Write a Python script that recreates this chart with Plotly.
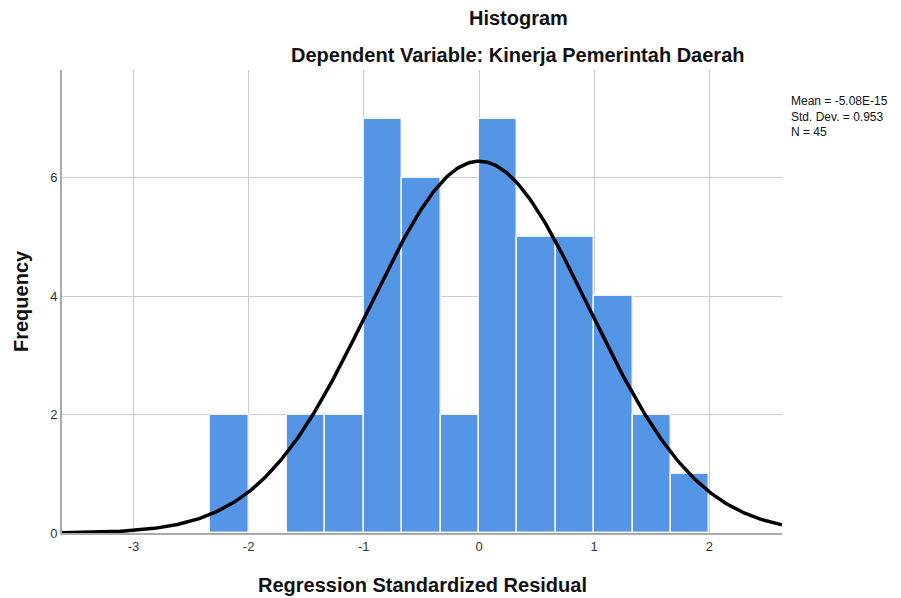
import numpy as np
import plotly.graph_objects as go

# Data
bin_left_edges = [-7/3, -2, -5/3, -4/3, -1, -2/3, -1/3, 0, 1/3, 2/3, 1, 4/3, 5/3]
bin_width = 1/3
counts = [2, 0, 2, 2, 7, 6, 2, 7, 5, 5, 4, 2, 1]
mean = -5.08e-15
std_dev = 0.953
n_obs = 45
y_ticks = [0, 2, 4, 6]
x_ticks = [-3, -2, -1, 0, 1, 2]
stats_lines = ["Mean = -5.08E-15", "Std. Dev. = 0.953", "N = 45"]

centers = [e + bin_width / 2 for e in bin_left_edges]

xs = np.linspace(-3.62, 2.63, 400)
ys = n_obs * bin_width / (std_dev * np.sqrt(2 * np.pi)) * np.exp(-0.5 * ((xs - mean) / std_dev) ** 2)

FONT = "Liberation Sans, Arial, sans-serif"

# page offset (body margin)
OFF = 8
W, H = 901, 598
L, R, T, B = 62 - OFF, W - (782 - OFF), 70 - OFF, H - (533 - OFF)
pw = W - L - R
ph = H - T - B

def pp(px, py):
    """page pixel -> paper coords"""
    fx = px - OFF
    fy = py - OFF
    return (fx - L) / pw, (H - B - fy) / ph

fig = go.Figure()
fig.add_trace(go.Bar(
    x=centers, y=counts, width=bin_width,
    marker=dict(color="#5495E5", line=dict(color="#F2F2F2", width=1.5)),
    hoverinfo="skip", showlegend=False,
))
fig.add_trace(go.Scatter(
    x=xs, y=ys, mode="lines", line=dict(color="black", width=3.5),
    hoverinfo="skip", showlegend=False,
))

annotations = []
x, y = pp(518, 18)
annotations.append(dict(text="<b>Histogram</b>", x=x, y=y, xanchor="center", yanchor="middle",
                        font=dict(size=20, color="#111")))
x, y = pp(518, 55)
annotations.append(dict(text="<b>Dependent Variable: Kinerja Pemerintah Daerah</b>", x=x, y=y,
                        xanchor="center", yanchor="middle", font=dict(size=20, color="#111")))
x, y = pp(422, 585)
annotations.append(dict(text="<b>Regression Standardized Residual</b>", x=x, y=y,
                        xanchor="center", yanchor="middle", font=dict(size=20, color="#111")))
x, y = pp(21, 301)
annotations.append(dict(text="<b>Frequency</b>", x=x, y=y, textangle=-90,
                        xanchor="center", yanchor="middle", font=dict(size=20, color="#111")))
x, y = pp(789, 116)
annotations.append(dict(text="<br>".join(stats_lines), x=x, y=y, xanchor="left", yanchor="middle",
                        align="left", font=dict(size=12, color="#111")))
for a in annotations:
    a.update(xref="paper", yref="paper", showarrow=False)

fig.update_layout(
    width=W, height=H,
    margin=dict(l=L, r=R, t=T, b=B),
    paper_bgcolor="white", plot_bgcolor="white",
    font=dict(family=FONT, color="#222"),
    bargap=0,
    xaxis=dict(
        range=[-3.62, 2.63], tickvals=x_ticks, ticktext=[str(v) for v in x_ticks],
        showgrid=True, gridcolor="#CCCCCC", gridwidth=1,
        showline=True, linecolor="#AAAAAA", linewidth=2,
        zeroline=False, ticks="", tickfont=dict(size=13, color="#333"),
    ),
    yaxis=dict(
        range=[0, 7.82], tickvals=y_ticks, ticktext=[str(v) for v in y_ticks],
        showgrid=True, gridcolor="#CCCCCC", gridwidth=1,
        showline=True, linecolor="#AAAAAA", linewidth=2,
        zeroline=False, ticks="", tickfont=dict(size=13, color="#333"),
    ),
    annotations=annotations,
)

fig.write_html("out.html")
